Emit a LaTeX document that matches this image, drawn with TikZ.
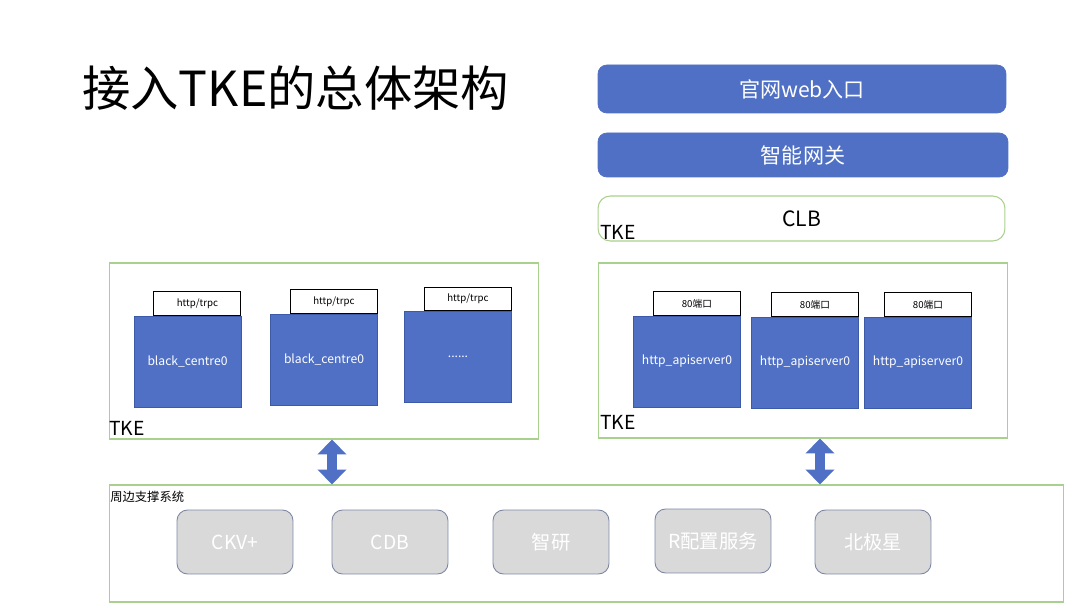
\documentclass[tikz,border=0pt]{standalone}
\usepackage{fontspec}
\setmainfont{Noto Sans CJK SC}
\usetikzlibrary{arrows.meta,positioning}
\definecolor{TkeBlue}{RGB}{79,112,196}
\definecolor{TkeEdge}{RGB}{60,90,165}
\definecolor{TkeGreen}{RGB}{169,209,142}
\definecolor{SupGray}{RGB}{217,217,217}
\definecolor{SupEdge}{RGB}{125,135,165}

\tikzset{
  entrybar/.style={fill=TkeBlue, draw=TkeBlue, rounded corners=5pt,
    text=white, font=\fontsize{12}{14}\selectfont},
  tkebox/.style={draw=TkeGreen, line width=0.6pt},
  podbox/.style={fill=TkeBlue, draw=TkeEdge, line width=0.4pt,
    minimum width=2.14cm, minimum height=1.82cm, inner sep=0pt,
    text=white, font=\fontsize{6.9}{8}\selectfont},
  porttab/.style={draw=black, fill=white, line width=0.5pt, anchor=south east,
    minimum width=1.74cm, minimum height=0.47cm, inner sep=0pt,
    font=\fontsize{5.5}{7}\selectfont},
  supbox/.style={fill=SupGray, draw=SupEdge, line width=0.5pt, rounded corners=6pt,
    minimum width=2.32cm, minimum height=1.28cm, text=white,
    font=\fontsize{11}{13}\selectfont},
  tketag/.style={anchor=base west, inner sep=0pt, font=\fontsize{11}{13}\selectfont},
  linkarrow/.style={draw=TkeBlue, line width=5.7pt,
    {Triangle[width=16pt,length=8.5pt]}-{Triangle[width=16pt,length=8.5pt]}}
}

\begin{document}
\begin{tikzpicture}[x=0.02cm, y=-0.02cm]
\useasboundingbox (0,0) rectangle (1080,607);

% title
\node[anchor=west, inner sep=0pt, font=\fontsize{27.5}{32}\selectfont] (title) at (82,88) {接入TKE的总体架构};

% entry layers
\node[entrybar, minimum width=8.16cm, minimum height=0.96cm] (web) at (802,89) {官网web入口};
\node[entrybar, minimum width=8.2cm, minimum height=0.88cm] (gw) at (803,155) {智能网关};
\node[tkebox, rounded corners=7pt, minimum width=8.14cm, minimum height=0.9cm,
      font=\fontsize{12}{14}\selectfont] (clb) at (801.5,218.5) {CLB};
\node[tketag] (clbtke) at (600,240) {TKE};

% left cluster
\node[tkebox, minimum width=8.6cm, minimum height=3.52cm] (lefttke) at (324,351) {};
\node[tketag] (lefttag) at (109,436) {TKE};
\node[podbox] (bc1) at (187.5,361.5) {black\_centre0};
\node[podbox] (bc2) at (324,359.5) {black\_centre0};
\node[podbox] (bc3) at (458,357) {......};
\foreach \n in {bc1,bc2,bc3}
  \node[porttab] (\n tab) at (\n.north east) {http/trpc};

% right cluster
\node[tkebox, minimum width=8.2cm, minimum height=3.5cm] (righttke) at (803,350.5) {};
\node[tketag] (righttag) at (600,430) {TKE};
\node[podbox] (api1) at (687,361.5) {http\_apiserver0};
\node[podbox] (api2) at (805,362.5) {http\_apiserver0};
\node[podbox] (api3) at (918,362.5) {http\_apiserver0};
\foreach \n in {api1,api2,api3}
  \node[porttab] (\n tab) at (\n.north east) {80端口};

% support systems
\node[tkebox, minimum width=19.1cm, minimum height=2.34cm] (support) at (586.5,543.5) {};
\node[anchor=north west, inner sep=0pt, font=\fontsize{7}{8}\selectfont] (suptitle) at (110,491) {周边支撑系统};
\node[supbox] (ckv) at (235,542) {CKV+};
\node[supbox] (cdb) at (390,542) {CDB};
\node[supbox] (zhiyan) at (551,542) {智研};
\node[supbox] (rconf) at (713,541) {R配置服务};
\node[supbox] (polaris) at (873,542) {北极星};

% links
\coordinate (la) at (332,0);
\coordinate (ra) at (820,0);
\draw[linkarrow] (lefttke.south -| la) -- (support.north -| la);
\draw[linkarrow] (righttke.south -| ra) -- (support.north -| ra);
\end{tikzpicture}
\end{document}
